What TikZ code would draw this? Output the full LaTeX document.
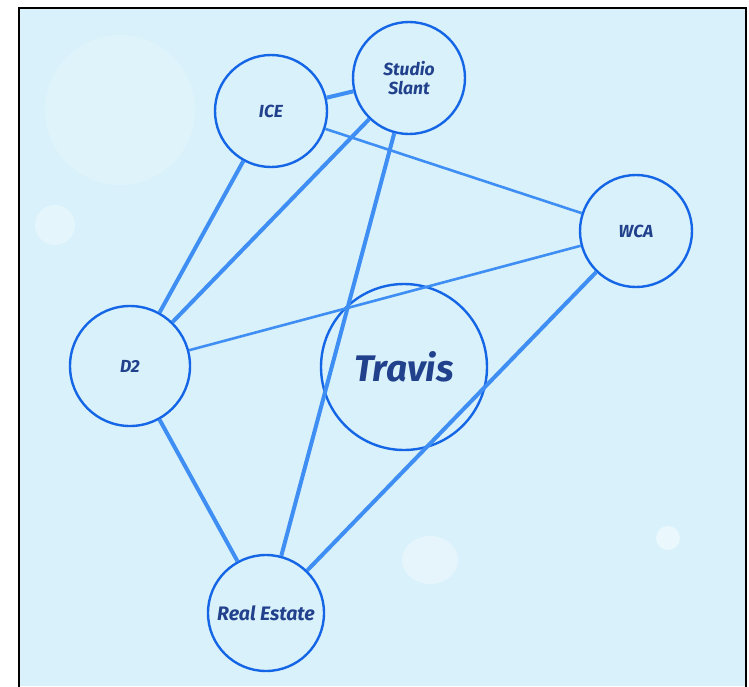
\documentclass[tikz,border=0pt]{standalone}
\usepackage{fontspec}
\newfontfamily\labelfont{Fira Sans}
\definecolor{bgblue}{HTML}{D9F1FA}
\definecolor{ringblue}{HTML}{1466E6}
\definecolor{linkblue}{HTML}{3F8EF3}
\definecolor{textnavy}{HTML}{22418C}
\tikzset{
  firm/.style={circle, draw=ringblue, line width=2.4pt, text=textnavy,
    font=\labelfont\bfseries\itshape\fontsize{17.5}{19.5}\selectfont,
    align=center, inner sep=0pt},
  strong/.style={linkblue, line width=4pt},
  weak/.style={linkblue, line width=2.6pt}
}
\begin{document}
\begin{tikzpicture}[x=1pt, y=-1pt]
    \useasboundingbox (0, 0) rectangle (749, 686);

    % backdrop
    \fill [bgblue] (19, 8) rectangle (746, 686);
    \fill [white, opacity=0.15] (120, 110) circle (75);
    \fill [white, opacity=0.3] (55, 225) circle (20);
    \fill [white, opacity=0.35] (430, 560) ellipse (28 and 24);
    \fill [white, opacity=0.45] (668, 538) circle (12);
    \draw [black, line width=2pt] (19, 690) -- (19, 8) -- (746, 8) -- (746, 690);

    % circles
    \node [firm, minimum size=112pt] (ice) at (271, 111) {ICE};
    \node [firm, minimum size=112pt] (studio) at (409, 78) {Studio\\Slant};
    \node [firm, minimum size=112pt] (wca) at (636, 231) {WCA};
    \node [firm, minimum size=120pt] (dtwo) at (130, 366) {D2};
    \node [firm, minimum size=116pt, font=\labelfont\bfseries\itshape\fontsize{19.5}{21}\selectfont] (estate) at (266, 613) {Real Estate};
    \node [firm, minimum size=166pt, font=\labelfont\bfseries\itshape\fontsize{37}{40}\selectfont] (travis) at (404, 367) {Travis};

    % links
    \draw [strong] (ice) -- (studio);
    \draw [strong] (ice) -- (dtwo);
    \draw [strong] (studio) -- (dtwo);
    \draw [strong] (studio) -- (estate);
    \draw [strong] (dtwo) -- (estate);
    \draw [strong] (wca) -- (estate);
    \draw [weak] (ice) -- (wca);
    \draw [weak] (dtwo) -- (wca);
  \end{tikzpicture}
\end{document}
